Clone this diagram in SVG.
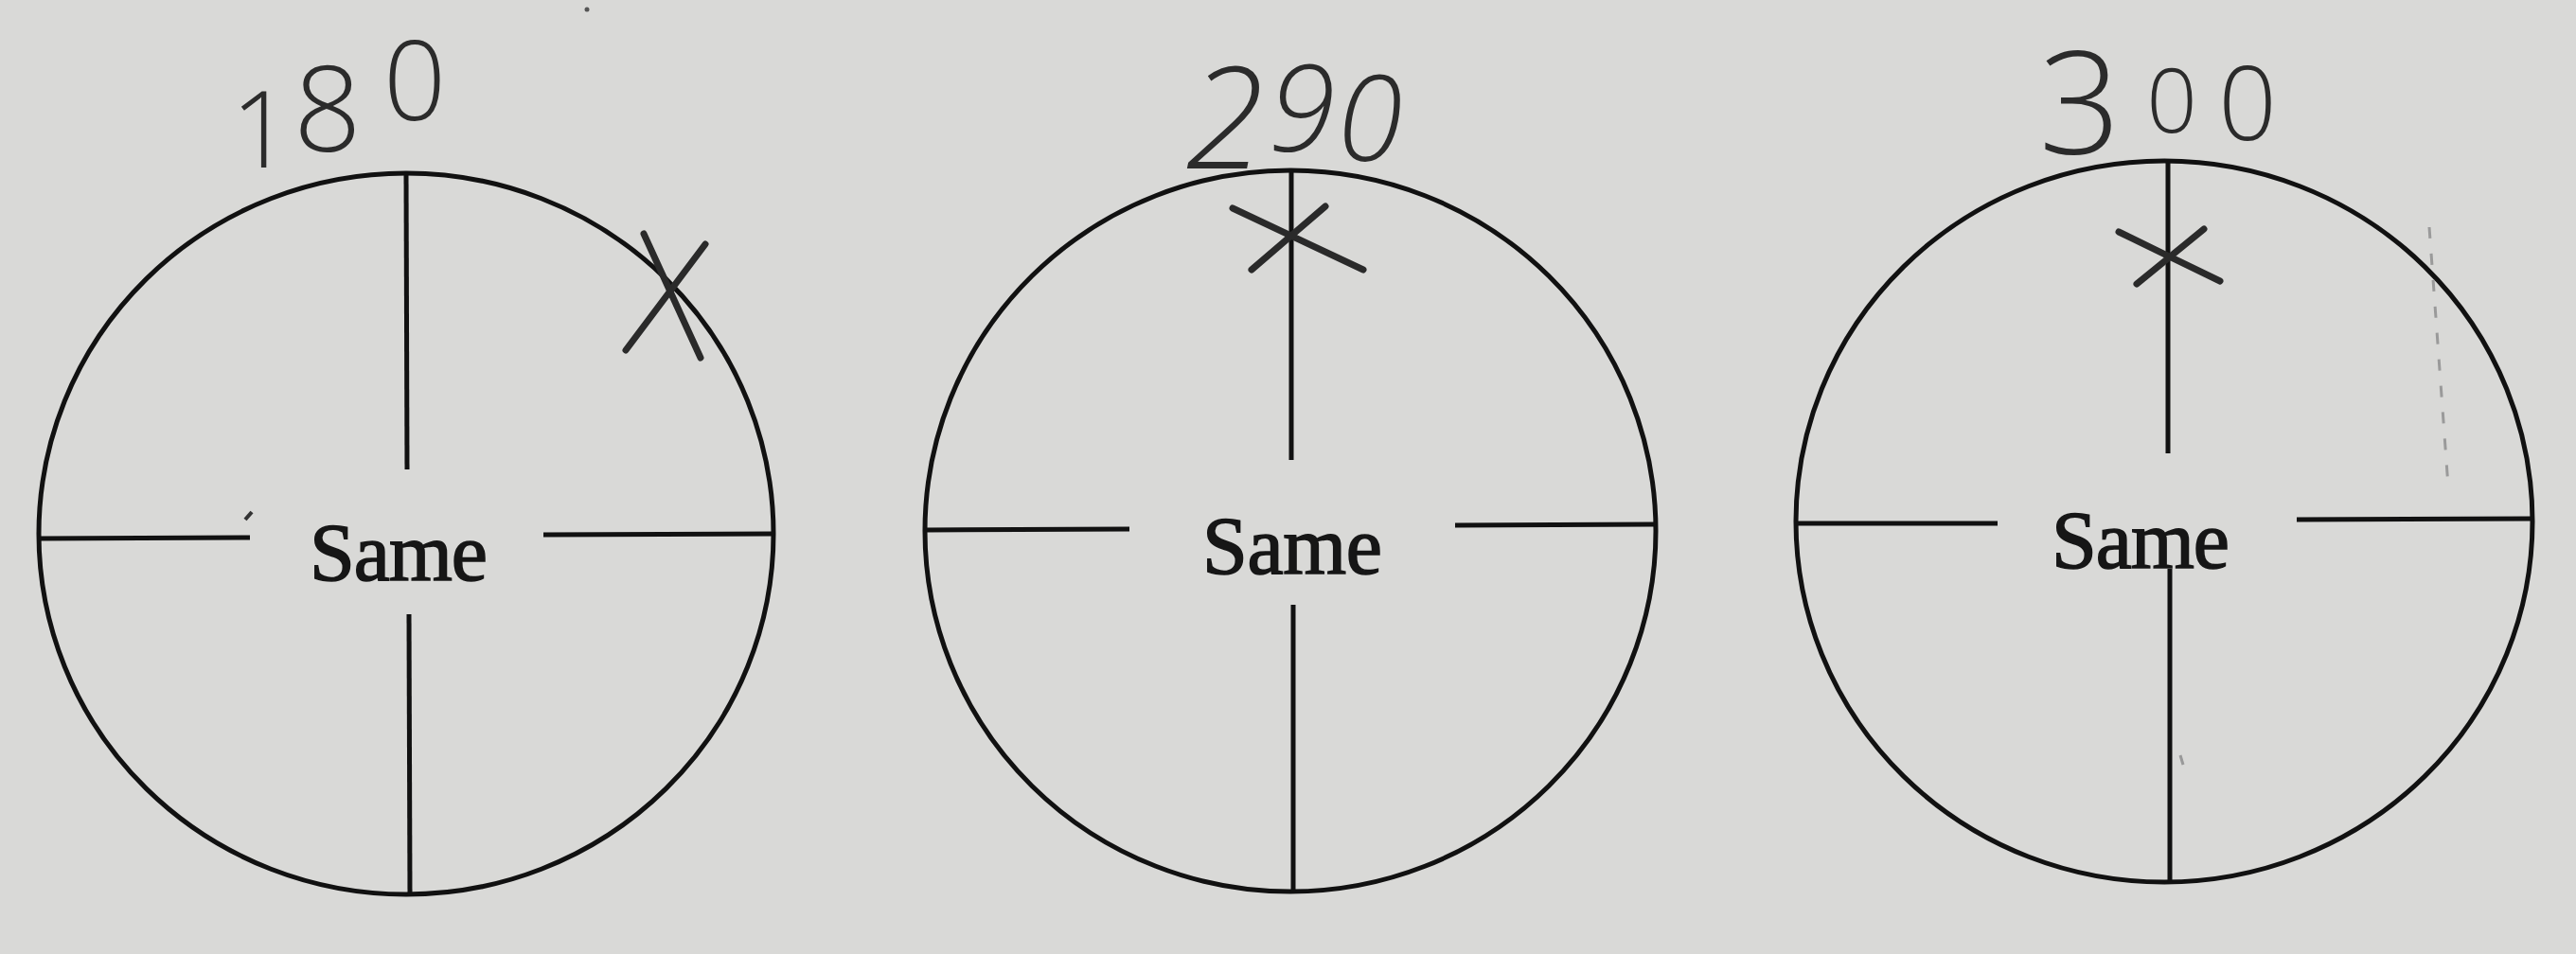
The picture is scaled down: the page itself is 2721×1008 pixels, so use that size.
<svg xmlns="http://www.w3.org/2000/svg" width="2721" height="1008" viewBox="0 0 2721 1008">
<style>
.bg{fill:#d9d9d7}
.dial{fill:none;stroke:#111;stroke-width:5}
.hair{stroke:#111;stroke-width:5;stroke-linecap:butt}
.mark{stroke:#2a2a2a;stroke-width:7;stroke-linecap:round}
.same{font-family:"Liberation Serif","Times New Roman",serif;font-size:86px;fill:#161616;stroke:#161616;stroke-width:1.6}
.hand{font-family:"Open Sans","Liberation Sans",sans-serif;font-weight:300;fill:#2b2b2b;text-anchor:middle}
</style>
<rect class="bg" x="0" y="0" width="2721" height="1008"/>
<circle cx="620" cy="10" r="2.5" fill="#555"/>
<g id="connectors"></g>
<g id="dial-180">
  <ellipse class="dial" cx="429" cy="564" rx="388" ry="381"/>
  <line class="hair" x1="429" y1="184" x2="430" y2="496"/>
  <line class="hair" x1="432" y1="649" x2="433" y2="945"/>
  <line class="hair" x1="42" y1="569" x2="264" y2="568"/>
  <line class="hair" x1="574" y1="565" x2="816" y2="564"/>
  <line stroke="#333" stroke-width="4" x1="259" y1="549" x2="266" y2="541"/>
  <text class="same" x="327" y="613" textLength="188" lengthAdjust="spacing">Same</text>
  <text class="hand" x="276" y="177" font-size="112">1</text>
  <text class="hand" x="346" y="160" font-size="125">8</text>
  <text class="hand" x="438" y="127" font-size="116">0</text>
  <line class="mark" x1="661" y1="370" x2="745" y2="258"/>
  <line class="mark" x1="680" y1="247" x2="740" y2="378"/>
</g>
<g id="dial-290">
  <ellipse class="dial" cx="1363" cy="561" rx="386" ry="381"/>
  <line class="hair" x1="1364" y1="180" x2="1364" y2="486"/>
  <line class="hair" x1="1366" y1="639" x2="1366" y2="942"/>
  <line class="hair" x1="978" y1="560" x2="1193" y2="559"/>
  <line class="hair" x1="1537" y1="555" x2="1748" y2="554"/>
  <text class="same" x="1270" y="606" textLength="190" lengthAdjust="spacing">Same</text>
  <text class="hand" font-style="italic" fill="#3a3a3a" x="1294" y="178" font-size="150">2</text>
  <text class="hand" font-style="italic" fill="#3a3a3a" x="1375" y="160" font-size="128">9</text>
  <text class="hand" font-style="italic" fill="#3a3a3a" x="1447" y="170" font-size="125">0</text>
  <line class="mark" stroke-width="9" x1="1302" y1="220" x2="1440" y2="285"/>
  <line class="mark" stroke-width="9" x1="1322" y1="285" x2="1400" y2="218"/>
</g>
<g id="dial-300">
  <ellipse class="dial" cx="2286" cy="551" rx="389" ry="381"/>
  <line class="hair" x1="2290" y1="172" x2="2290" y2="479"/>
  <line class="hair" x1="2292" y1="601" x2="2292" y2="932"/>
  <line class="hair" x1="1898" y1="553" x2="2110" y2="553"/>
  <line class="hair" x1="2426" y1="549" x2="2675" y2="548"/>
  <line stroke="#9a9a9a" stroke-width="3" stroke-dasharray="12 16" x1="2566" y1="240" x2="2586" y2="514"/>
  <line stroke="#999" stroke-width="3" x1="2303" y1="798" x2="2306" y2="808"/>
  <text class="same" x="2167" y="600" textLength="188" lengthAdjust="spacing">Same</text>
  <text class="hand" x="2197" y="163" font-size="152">3</text>
  <text class="hand" x="2294" y="140" font-size="94">0</text>
  <text class="hand" x="2374" y="148" font-size="108">0</text>
  <line class="mark" stroke-width="6" x1="2238" y1="245" x2="2345" y2="297"/>
  <line class="mark" stroke-width="6" x1="2257" y1="300" x2="2328" y2="242"/>
</g>
</svg>
